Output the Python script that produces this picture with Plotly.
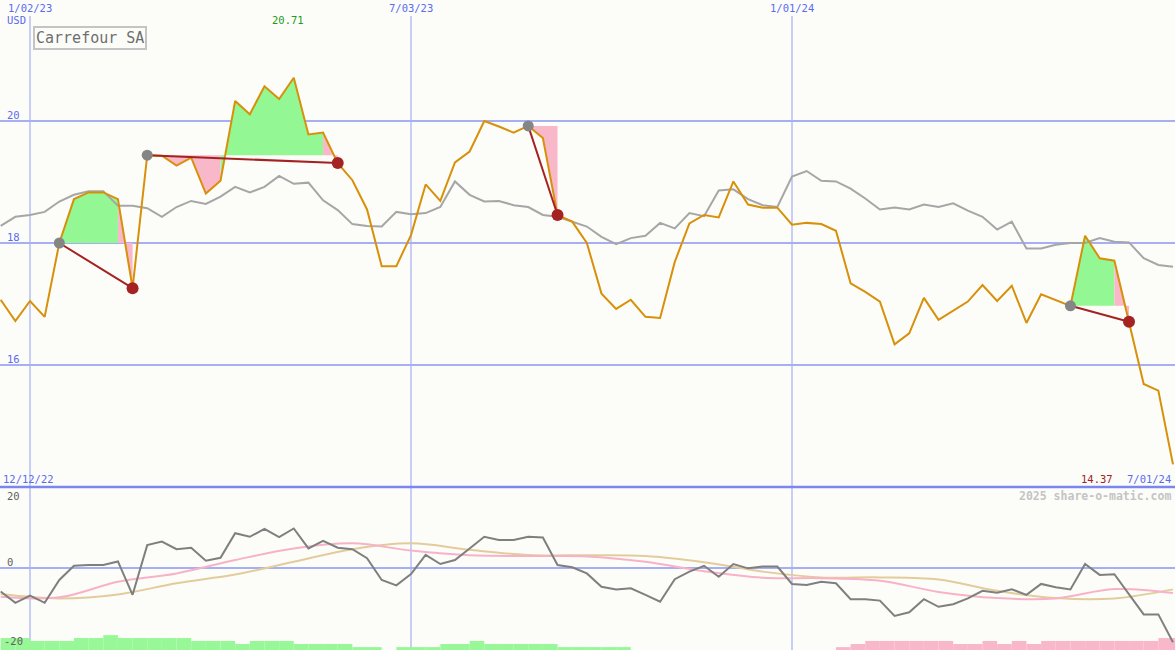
import plotly.graph_objects as go
import pandas as pd

# ---------------- data ----------------
dates = pd.date_range("2022-12-19", periods=81, freq="7D")

price = [17.07, 16.72, 17.05, 16.79, 18.00, 18.72, 18.83, 18.83, 18.72, 17.26,
         19.44, 19.43, 19.27, 19.40, 18.81, 19.02, 20.33, 20.11, 20.57, 20.36,
         20.71, 19.78, 19.81, 19.31, 19.03, 18.55, 17.62, 17.62, 18.13, 18.96,
         18.69, 19.32, 19.50, 20.00, 19.91, 19.81, 19.92, 19.72, 18.46, 18.35,
         18.00, 17.17, 16.92, 17.07, 16.79, 16.77, 17.69, 18.32, 18.46, 18.42,
         19.01, 18.63, 18.58, 18.58, 18.30, 18.33, 18.31, 18.20, 17.34, 17.20,
         17.04, 16.34, 16.52, 17.10, 16.74, 16.89, 17.04, 17.31, 17.05, 17.30,
         16.69, 17.16, 17.07, 16.97, 18.12, 17.75, 17.71, 16.71, 15.69, 15.58,
         14.37]

bench = [18.28, 18.43, 18.46, 18.51, 18.68, 18.79, 18.85, 18.85, 18.61, 18.61,
         18.57, 18.43, 18.59, 18.69, 18.64, 18.76, 18.92, 18.83, 18.92, 19.10,
         18.97, 18.99, 18.70, 18.54, 18.31, 18.28, 18.27, 18.51, 18.47, 18.49,
         18.59, 19.01, 18.79, 18.68, 18.69, 18.62, 18.59, 18.46, 18.43, 18.35,
         18.27, 18.10, 17.98, 18.08, 18.12, 18.33, 18.24, 18.49, 18.44, 18.86,
         18.88, 18.72, 18.62, 18.59, 19.09, 19.18, 19.02, 19.01, 18.89, 18.73,
         18.55, 18.58, 18.55, 18.63, 18.59, 18.65, 18.53, 18.43, 18.22, 18.35,
         17.91, 17.91, 17.97, 18.00, 18.00, 18.08, 18.02, 18.01, 17.75, 17.64,
         17.61]

osc = [-6.5, -9.6, -7.6, -9.6, -3.3, 0.6, 0.8, 0.8, 1.8, -7.4,
       6.3, 7.3, 5.2, 5.6, 2.0, 2.8, 9.6, 8.6, 10.8, 8.5,
       10.9, 5.4, 7.5, 5.6, 5.2, 2.7, -3.3, -4.8, -1.7, 3.6,
       1.1, 2.2, 5.4, 8.6, 7.7, 7.7, 8.6, 8.4, 0.8, 0.2,
       -1.5, -5.2, -5.9, -5.6, -7.4, -9.3, -3.1, -1.0, 0.6, -2.4,
       1.1, -0.1, 0.4, 0.4, -4.4, -4.7, -3.8, -4.2, -8.6, -8.6,
       -9.0, -13.2, -12.2, -8.6, -10.7, -10.0, -8.4, -6.3, -6.8, -5.9,
       -7.4, -4.4, -5.3, -5.9, 1.1, -1.9, -1.7, -7.4, -12.8, -12.8,
       -20.5]

ma_dates = pd.date_range("2022-12-19", periods=21, freq="28D")
ma_pink = [-7.9, -8.1, -3.8, -1.5, 2.2, 5.4, 6.8, 4.8, 3.5, 3.3, 3.2,
           1.7, -0.9, -2.7, -2.8, -3.5, -6.6, -8.3, -8.4, -5.8, -6.9]
ma_tan = [-7.2, -8.4, -7.3, -4.2, -1.8, 1.7, 5.2, 6.8, 5.0, 3.6, 3.5,
          3.3, 1.6, -1.0, -2.6, -2.6, -3.2, -6.3, -8.3, -8.4, -5.9]

# signed bar heights (+ green / - pink)
bars = [3.3, 3.3, 2.5, 2.5, 2.5, 3.3, 3.3, 4.1, 3.3, 3.3,
        3.3, 3.3, 3.3, 2.5, 2.5, 2.5, 1.65, 2.5, 2.5, 2.5,
        1.65, 1.65, 1.65, 1.65, 0.8, 0.8, 0, 0.8, 0.8, 0.8,
        1.65, 1.65, 2.5, 1.65, 1.65, 1.65, 1.65, 1.65, 0.8, 0.8,
        0.8, 0.8, 0.8, 0, 0, 0, 0, 0, 0, 0,
        0, 0, 0, 0, 0, 0, 0, -0.8, -1.65, -2.5,
        -2.5, -2.5, -2.5, -2.5, -2.5, -1.65, -1.65, -2.5, -1.65, -2.5,
        -1.65, -2.5, -2.5, -2.5, -2.5, -2.5, -2.5, -2.5, -2.5, -3.3,
        -3.3]

buy_idx = [4, 10, 36, 73]
sell_idx = [9, 23, 38, 77]

vline_dates = ["2023-01-02", "2023-07-03", "2024-01-01"]
vline_labels = ["1/02/23", "7/03/23", "1/01/24"]
price_ticks = [20, 18, 16]
osc_ticks = [20, 0, -20]

# ---------------- styling ----------------
BG = "#fcfdf9"
GRID = "#a6aff4"
LBL = "#5a6bf0"
FONT = "DejaVu Sans Mono"
W, H = 1175, 650
X_RANGE = ["2022-12-18 16:00", "2024-07-01 23:00"]
Y1_RANGE = [14.0, 21.984]
Y2_RANGE = [-22.62, 22.34]
SPLIT = 163 / H

fig = go.Figure()

# trade fills (per segment, coloured by segment end vs buy level)
gx, gy, px_, py_ = [], [], [], []
for b, s in zip(buy_idx, sell_idx):
    base = price[b]
    for j in range(b, s):
        xs = [dates[j], dates[j + 1], dates[j + 1], dates[j], dates[j], None]
        ys = [price[j], price[j + 1], base, base, price[j], None]
        if price[j + 1] >= base:
            gx += xs; gy += ys
        else:
            px_ += xs; py_ += ys
fig.add_trace(go.Scatter(x=gx, y=gy, fill="toself", fillcolor="#93f893",
                         line=dict(width=0), mode="lines", hoverinfo="skip"))
fig.add_trace(go.Scatter(x=px_, y=py_, fill="toself", fillcolor="#f9b8ca",
                         line=dict(width=0), mode="lines", hoverinfo="skip"))

# benchmark + price
fig.add_trace(go.Scatter(x=dates, y=bench, mode="lines",
                         line=dict(color="#a6a6a6", width=2)))
fig.add_trace(go.Scatter(x=dates, y=price, mode="lines",
                         line=dict(color="#d8900a", width=2)))

# trade lines
tx, ty = [], []
for b, s in zip(buy_idx, sell_idx):
    tx += [dates[b], dates[s], None]
    ty += [price[b], price[s], None]
fig.add_trace(go.Scatter(x=tx, y=ty, mode="lines",
                         line=dict(color="#a52222", width=2)))
fig.add_trace(go.Scatter(x=[dates[i] for i in buy_idx], y=[price[i] for i in buy_idx],
                         mode="markers", marker=dict(color="#858585", size=11)))
fig.add_trace(go.Scatter(x=[dates[i] for i in sell_idx], y=[price[i] for i in sell_idx],
                         mode="markers", marker=dict(color="#a52222", size=12)))

# lower panel bars
bar_x = [d for d, v in zip(dates, bars) if v != 0]
bar_h = [abs(v) for v in bars if v != 0]
bar_c = ["#98f898" if v > 0 else "#f9b8ca" for v in bars if v != 0]
fig.add_trace(go.Bar(x=bar_x, y=bar_h, base=Y2_RANGE[0], yaxis="y2",
                     width=7 * 86400000, offset=0,
                     marker=dict(color=bar_c, line=dict(width=0))))

fig.add_trace(go.Scatter(x=ma_dates, y=ma_tan, yaxis="y2", mode="lines",
                         line=dict(color="#e3cc9c", width=2, shape="spline")))
fig.add_trace(go.Scatter(x=ma_dates, y=ma_pink, yaxis="y2", mode="lines",
                         line=dict(color="#f8b2c8", width=2, shape="spline")))
fig.add_trace(go.Scatter(x=dates, y=osc, yaxis="y2", mode="lines",
                         line=dict(color="#7f7f7f", width=2)))

# ---------------- shapes ----------------
shapes = []
for d in vline_dates:
    shapes.append(dict(type="line", xref="x", yref="paper", x0=d, x1=d,
                       y0=0, y1=1 - 16 / H, line=dict(color=GRID, width=1.2),
                       layer="below"))
for v in price_ticks:
    shapes.append(dict(type="line", xref="paper", yref="y", x0=0, x1=1,
                       y0=v, y1=v, line=dict(color=GRID, width=2), layer="below"))
shapes.append(dict(type="line", xref="paper", yref="y2", x0=0, x1=1, y0=0, y1=0,
                   line=dict(color=GRID, width=2), layer="below"))
shapes.append(dict(type="line", xref="paper", yref="paper", x0=0, x1=1,
                   y0=SPLIT, y1=SPLIT, line=dict(color="#7b87ef", width=2.5),
                   layer="above"))

# ---------------- annotations ----------------
def px_ann(text, x, y, color, size=10.5, xanchor="left", bold=False, **kw):
    t = f"<b>{text}</b>" if bold else text
    return dict(text=t, x=x / W, y=1 - y / H, xref="paper", yref="paper",
                xanchor=xanchor, yanchor="middle", showarrow=False,
                font=dict(family=FONT, size=size, color=color), **kw)

anns = []
for d, lab in zip(vline_dates, vline_labels):
    anns.append(dict(text=lab, x=d, y=1 - 8 / H, xref="x", yref="paper",
                     xanchor="center", yanchor="middle", showarrow=False,
                     font=dict(family=FONT, size=10.5, color=LBL)))
anns.append(px_ann("USD", 5, 20, LBL))
for v in price_ticks:
    ypx = 121 + (20 - v) * 61 - 6
    anns.append(px_ann(str(v), 5, ypx, LBL))
anns.append(px_ann(f"{max(price):.2f}", 288, 20, "#1e9a1e", xanchor="center"))
anns.append(px_ann("12/12/22", 1, 479, LBL))
anns.append(px_ann(f"{price[-1]:.2f}", 1097, 479, "#a52222", xanchor="center"))
anns.append(px_ann("7/01/24", 1173, 479, LBL, xanchor="right"))
anns.append(px_ann("2025 share-o-matic.com", 1173, 496, "#c4c4c4", size=11.5,
                   xanchor="right", bold=True))
osc_lbl_y = {20: 496, 0: 562, -20: 641}
for v in osc_ticks:
    anns.append(px_ann(str(v), 5 if v >= 0 else 2, osc_lbl_y[v], "#606060"))
anns.append(dict(text="Carrefour SA", x=33 / W, y=1 - 26 / H, xref="paper",
                 yref="paper", xanchor="left", yanchor="top", showarrow=False,
                 font=dict(family=FONT, size=15, color="#6e6e6e"),
                 bordercolor="#c4c4c4", borderwidth=2, borderpad=1, bgcolor=BG))

fig.update_layout(
    width=W, height=H, margin=dict(l=0, r=0, t=0, b=0),
    paper_bgcolor=BG, plot_bgcolor=BG, showlegend=False,
    xaxis=dict(range=X_RANGE, type="date", visible=False, anchor="y2"),
    yaxis=dict(domain=[SPLIT, 1], range=Y1_RANGE, visible=False),
    yaxis2=dict(domain=[0, SPLIT], range=Y2_RANGE, visible=False),
    shapes=shapes, annotations=anns, hovermode=False,
)

fig.write_html("out.html", config={"displayModeBar": False},
               post_script="document.body.style.margin='0';document.body.style.overflow='hidden';")
